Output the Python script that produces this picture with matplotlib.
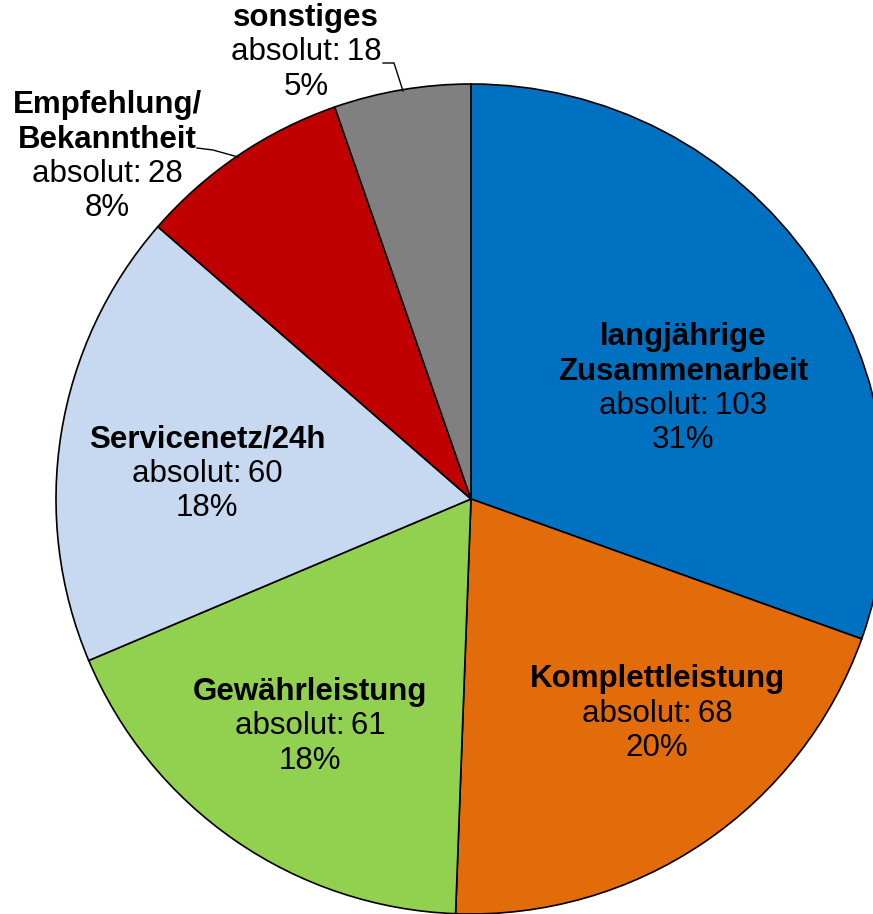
import matplotlib.pyplot as plt

# data
names = ['langjährige\nZusammenarbeit', 'Komplettleistung', 'Gewährleistung',
         'Servicenetz/24h', 'Empfehlung/\nBekanntheit', 'sonstiges']
counts = [103, 68, 61, 60, 28, 18]
percents = [31, 20, 18, 18, 8, 5]   # as printed on the chart
colors = ['#0070C0', '#E36C0A', '#92D050', '#C6D9F1', '#C00000', '#808080']

# label anchors in image pixels (x centre, y of first line)
label_pos = [(683, 337), (657, 679), (310, 692), (207, 439), (107, 105), (306, 18)]

W, H = 873, 914
cx, cy, R = 471, 499, 415

plt.rcParams['font.family'] = ['Liberation Sans', 'DejaVu Sans']

fig = plt.figure(figsize=(W / 100, H / 100), dpi=100)
ax = fig.add_axes([0, 0, 1, 1])

ax.pie(counts, colors=colors, startangle=90, counterclock=False, radius=R,
       center=(0, 0), wedgeprops=dict(edgecolor='black', linewidth=1.2))


def px(x, y):
    # image pixel -> data coords (pie centre at origin)
    return x - cx, cy - y


step = 34.5
fs = 22.5
for name, n, p, (lx, ly) in zip(names, counts, percents, label_pos):
    y = ly
    for ln in name.split('\n'):
        ax.text(*px(lx, y), ln, ha='center', va='center', fontsize=fs, fontweight='bold')
        y += step
    ax.text(*px(lx, y), 'absolut:\u2009%d' % n, ha='center', va='center', fontsize=fs)
    y += step
    ax.text(*px(lx, y), '%d%%' % p, ha='center', va='center', fontsize=fs)

# leader lines
for pts in [[(383, 63), (394, 63), (403, 91)], [(197, 148), (213, 150), (238, 157)]]:
    xs, ys = zip(*[px(x, y) for x, y in pts])
    ax.plot(xs, ys, color='black', lw=1)

ax.set_xlim(-cx, W - cx)
ax.set_ylim(cy - H, cy)
ax.set_aspect('equal')
ax.axis('off')

fig.savefig('out.png', dpi=100)
